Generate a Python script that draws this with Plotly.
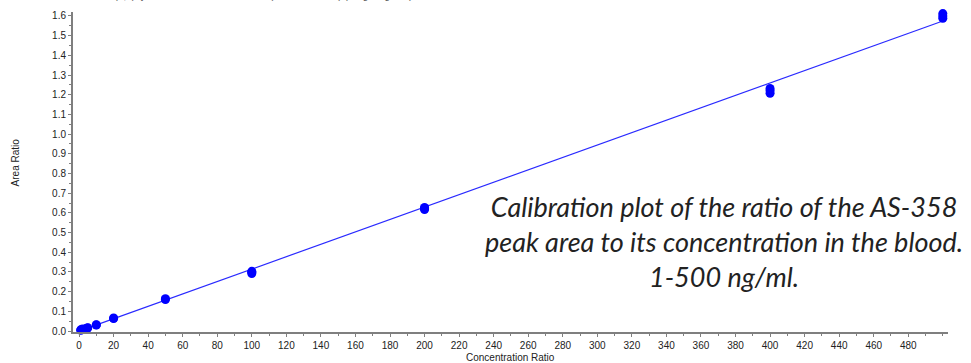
import plotly.graph_objects as go

# data
conc = [1, 1, 2, 2, 4, 5, 5, 10, 10, 20, 20, 50, 50, 100, 100, 100, 200, 200, 200, 400, 400, 400, 500, 500, 500, 500]
area = [0.004, 0.006, 0.008, 0.010, 0.013, 0.015, 0.017, 0.030, 0.032, 0.063, 0.066, 0.160, 0.164,
        0.292, 0.298, 0.303, 0.617, 0.622, 0.627, 1.207, 1.220, 1.232, 1.588, 1.600, 1.612, 1.622]
slope = 0.00315
intercept = -0.0005
line_x = [0, 500]

x_ticks = list(range(0, 481, 20))
y_ticks = [round(i * 0.1, 1) for i in range(0, 17)]

fig = go.Figure()
fig.add_trace(go.Scatter(x=line_x, y=[slope * v + intercept for v in line_x], mode="lines",
                         line=dict(color="#2a2aff", width=1.2), hoverinfo="skip"))
fig.add_trace(go.Scatter(x=conc, y=area, mode="markers", cliponaxis=False,
                         marker=dict(color="#0000ff", size=9, line=dict(width=0))))

axis_common = dict(showgrid=False, zeroline=False, showline=True, linecolor="#7f7f7f", linewidth=2,
                   ticks="outside", ticklen=3, tickcolor="#7f7f7f", tickwidth=1, automargin=False,
                   tickfont=dict(family="Liberation Sans, Arial", size=10, color="#222"))

fig.update_layout(
    width=971, height=363,
    margin=dict(l=73, r=23, t=12, b=31),
    paper_bgcolor="white", plot_bgcolor="white",
    showlegend=False,
    xaxis=dict(range=[-3.5, 503], tickvals=x_ticks, ticktext=[str(v) for v in x_ticks],
               minor=dict(ticks="outside", ticklen=2, dtick=10, tick0=0, tickcolor="#7f7f7f"),
               **axis_common),
    yaxis=dict(range=[-0.005, 1.62], tickvals=y_ticks, ticktext=[f"{v:.1f}" for v in y_ticks],
               minor=dict(ticks="outside", ticklen=2, dtick=0.05, tick0=0, tickcolor="#7f7f7f"),
               **axis_common),
    font=dict(family="Liberation Sans, Arial"),
)

# axis titles
fig.add_annotation(xref="paper", yref="paper", x=0.5, y=0, xanchor="center", yanchor="middle",
                   yshift=-25, showarrow=False, text="Concentration Ratio",
                   font=dict(family="Liberation Sans, Arial", size=10, color="#222"))
fig.add_annotation(xref="paper", yref="paper", x=0, y=0.53, xanchor="center", yanchor="middle",
                   xshift=-58, textangle=-90, showarrow=False, text="Area Ratio",
                   font=dict(family="Liberation Sans, Arial", size=10, color="#222"))

fig.add_annotation(xref="paper", yref="paper", x=0, y=1, xanchor="left", yanchor="bottom",
                   xshift=-61, yshift=9, showarrow=False,
                   text="Calibration for AS-358 (1,1): y = 0.00316 * x - 4.82300e-4 (R^2 = 0.99965) (weighting: 1/x)",
                   font=dict(family="Liberation Sans, Arial", size=10, color="#555"))

fig.add_annotation(xref="x", yref="y", x=373.5, y=0.455, xanchor="center", yanchor="middle",
                   showarrow=False, align="center",
                   text="<i>Calibration plot of the ratio of the AS-358<br>peak area to its concentration in the blood.<br>1-500 ng/ml.</i>",
                   font=dict(family="Lato", size=27, color="#222"))

fig.write_html("out.html")
